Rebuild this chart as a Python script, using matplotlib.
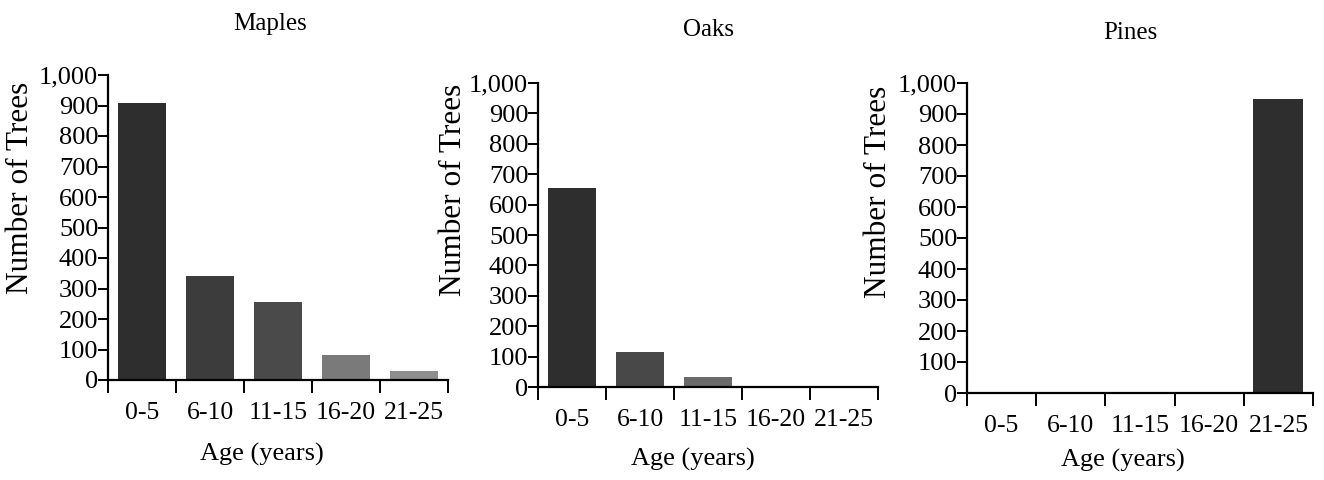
import matplotlib
matplotlib.use("Agg")
import matplotlib.pyplot as plt
from matplotlib.ticker import FuncFormatter, FixedLocator

plt.rcParams['font.family'] = ['Liberation Serif', 'DejaVu Serif']

categories = ["0-5", "6-10", "11-15", "16-20", "21-25"]
titles = ["Maples", "Oaks", "Pines"]
maples = [908, 342, 255, 82, 30]
oaks = [654, 114, 32, 0, 0]
pines = [0, 0, 0, 0, 950]
series = [maples, oaks, pines]
yticks = list(range(0, 1001, 100))

colors = [
    ["#2e2e2e", "#3c3c3c", "#4a4a4a", "#7a7a7a", "#8e8e8e"],
    ["#2e2e2e", "#484848", "#6a6a6a", "#888888", "#888888"],
    ["#2e2e2e", "#2e2e2e", "#2e2e2e", "#2e2e2e", "#2e2e2e"],
]

W, H = 1324, 480
fig = plt.figure(figsize=(W / 100, H / 100), dpi=100)

# pixel geometry: left, right, y of 0, y of 1000
geo = [(108, 448, 380, 75), (538, 878, 387, 83), (967, 1313, 393, 83)]
ylab = [(-0.215, 0.63), (-0.206, 0.648), (-0.214, 0.648)]
xlab = [(0.453, -0.205), (0.456, -0.2), (0.45, -0.18)]
title_pos = [(270, 24), (708, 30), (1130, 33)]

for i, (vals, g) in enumerate(zip(series, geo)):
    l, r, y0, y1 = g
    ax = fig.add_axes([l / W, 1 - y0 / H, (r - l) / W, (y0 - y1) / H])
    x = list(range(len(categories)))
    ax.bar(x, vals, width=0.72, color=colors[i], edgecolor="none")
    ax.set_xlim(-0.5, len(categories) - 0.5)
    ax.set_ylim(0, 1000)
    for s in ["top", "right"]:
        ax.spines[s].set_visible(False)
    for s in ["left", "bottom"]:
        ax.spines[s].set_linewidth(1.6)
    ax.set_yticks(yticks)
    ax.yaxis.set_major_formatter(FuncFormatter(lambda v, p: f"{int(v):,}"))
    ax.tick_params(axis="y", length=7, width=1.4, labelsize=19, pad=0)
    ax.xaxis.set_major_locator(FixedLocator([k - 0.5 for k in range(len(categories) + 1)]))
    ax.xaxis.set_minor_locator(FixedLocator(x))
    ax.set_xticklabels([""] * (len(categories) + 1))
    ax.set_xticks(x, categories, minor=True)
    ax.tick_params(axis="x", which="major", length=9, width=1.4)
    ax.tick_params(axis="x", which="minor", length=0, labelsize=18.5, pad=16)
    ax.set_ylabel("Number of Trees", fontsize=22.5)
    ax.yaxis.set_label_coords(*ylab[i])
    ax.set_xlabel("Age (years)", fontsize=19)
    ax.xaxis.set_label_coords(*xlab[i])
    tx, ty = title_pos[i]
    fig.text(tx / W, 1 - ty / H, titles[i], ha="center", va="center", fontsize=18)

fig.savefig("out.png", dpi=100)
